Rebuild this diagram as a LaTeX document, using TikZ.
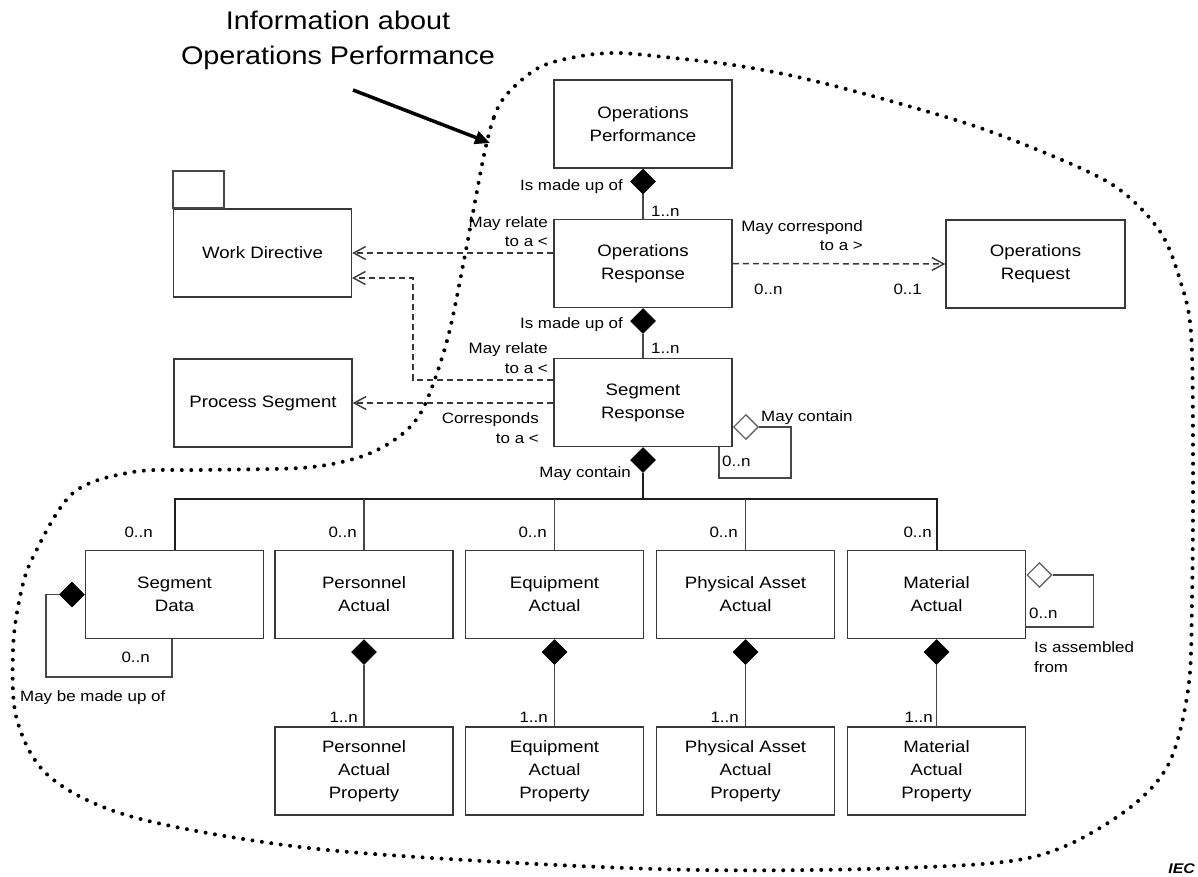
\documentclass[tikz,border=0pt]{standalone}
\usepackage{fontspec}
\setmainfont[FakeStretch=1.13]{Liberation Sans}
\usetikzlibrary{shapes.geometric,arrows.meta}
\begin{document}
\begin{tikzpicture}[x=1pt,y=-1pt,
  cls/.style={draw=black!78,line width=1.5pt,minimum width=178pt,minimum height=88pt,
    inner sep=0pt,align=center,font=\fontsize{16.5}{23}\selectfont},
  lbl/.style={inner sep=0pt,font=\fontsize{15}{19.5}\selectfont},
  fdia/.style={diamond,draw=black,fill=black,line width=0.6pt,minimum width=25pt,
    minimum height=25pt,inner sep=0pt},
  odia/.style={diamond,draw=black!60,fill=white,line width=1.3pt,minimum width=25pt,
    minimum height=25pt,inner sep=0pt},
  conn/.style={draw=black!72,line width=1.5pt},
  bus/.style={draw=black!88,line width=2pt},
  dep/.style={draw=black!78,line width=1.5pt,dash pattern=on 6pt off 4pt,
    -{Straight Barb[length=12pt,width=13pt,line width=1.4pt]}},
  region/.style={draw=black,line width=4pt,line cap=round,dash pattern=on 0pt off 9.5pt},
  pointer/.style={draw=black,line width=3.5pt,-{Triangle[length=15pt,width=13pt]}}
]
\useasboundingbox (0,0) rectangle (1198,877);

% title and pointer (a multi-line node's base is its last line)
\node[align=center,inner sep=0pt,font=\fontsize{25.5}{35}\selectfont,anchor=base] (title) at (338,65)
  {Information about\\Operations Performance};
\coordinate (ar0) at (353,90);
\coordinate (ar1) at (490,143);
\draw[pointer] (ar0) -- (ar1);

% boundary of the operations performance information
\draw[region] plot[smooth cycle,tension=0.55] coordinates {
  (483,160) (494,117) (508,93) (540,67) (581,56) (618,53) (664,57) (733,65)
  (802,78) (894,102) (986,130) (1078,167) (1124,193) (1161,233) (1180,280)
  (1191,333) (1193,460) (1192,600) (1188,690) (1167,767) (1117,817) (1033,857)
  (900,868) (700,870) (500,862) (300,847) (133,817) (50,777) (17,720) (13,650)
  (20,597) (33,557) (73,493) (133,472) (200,470) (300,468) (350,460) (383,447)
  (410,427) (427,400) (448,337) (465,255)};

% classes
\node[cls] (OP) at (643,124) {Operations\\Performance};
\node[cls] (OR) at (643,263.5) {Operations\\Response};
\node[cls,minimum width=179pt] (OQ) at (1035.5,264) {Operations\\Request};
\node[cls] (SR) at (643,402.5) {Segment\\Response};
\node[cls] (WD) at (262.5,253) {Work Directive};
\draw[conn] (WD.north west) rectangle ++(51,-37);
\node[cls] (PS) at (263,403) {Process Segment};

\node[cls] (SD) at (174.5,594.5) {Segment\\Data};
\node[cls] (PA) at (364,594.5) {Personnel\\Actual};
\node[cls] (EA) at (554.5,594.5) {Equipment\\Actual};
\node[cls] (HA) at (745.5,594.5) {Physical Asset\\Actual};
\node[cls] (MA) at (936.5,594.5) {Material\\Actual};

\node[cls] (PAP) at (364,771) {Personnel\\Actual\\Property};
\node[cls] (EAP) at (554.5,771) {Equipment\\Actual\\Property};
\node[cls] (HAP) at (745.5,771) {Physical Asset\\Actual\\Property};
\node[cls] (MAP) at (936.5,771) {Material\\Actual\\Property};

% composition: performance -> response -> segment response
\node[fdia,anchor=north] (dOP) at (OP.south) {};
\draw[conn] (dOP.south) -- (OR.north);
\node[lbl,anchor=base east] at (623,191) {Is made up of};
\node[lbl,anchor=base west] at (651,217) {1..n};

\node[fdia,anchor=north] (dOR) at (OR.south) {};
\draw[conn] (dOR.south) -- (SR.north);
\node[lbl,anchor=base east] at (623,328) {Is made up of};
\node[lbl,anchor=base west] at (651,353) {1..n};

% dependencies
\draw[dep] (OR.west |- WD.east) -- (WD.east);
\node[lbl,align=right,anchor=base east] at (548,247) {May relate\\to a <};

\coordinate (wdj) at (413,380);
\coordinate (wdi) at (352,278);
\draw[dep] (SR.west |- wdj) -- (wdj) |- (wdi);
\node[lbl,align=right,anchor=base east] at (548,373) {May relate\\to a <};

\draw[dep] (SR.west |- PS.east) -- (PS.east);
\node[lbl,align=right,anchor=base east] at (539,443) {Corresponds\\to a <};

\draw[dep] (OR.east) -- (OQ.west);
\node[lbl,align=right,anchor=base east] at (863,251) {May correspond\\to a >};
\node[lbl,anchor=base west] at (754,294) {0..n};
\node[lbl,anchor=base east] at (922,294) {0..1};

% segment response self aggregation
\node[odia,anchor=west] (dSR) at ([yshift=-24.5pt]SR.east) {};
\coordinate (srl) at (719,478);
\draw[conn] (dSR.east) -- ++(32,0) |- (srl) -- (srl |- SR.south);
\node[lbl,anchor=base west] at (761,421) {May contain};
\node[lbl,anchor=base west] at (722,466) {0..n};

% segment response contents
\node[fdia,anchor=north] (dSRb) at (SR.south) {};
\coordinate (bus) at (643,499);
\draw[bus] (dSRb.south) -- (bus);
\node[lbl,anchor=base east] at (631,477) {May contain};
\draw[bus] (SD.north) -- (SD.north |- bus) -- (MA.north |- bus) -- (MA.north);
\draw[conn] (PA.north) -- (PA.north |- bus);
\draw[conn] (EA.north) -- (EA.north |- bus);
\draw[conn] (HA.north) -- (HA.north |- bus);
\node[lbl,anchor=base east] at (153,537) {0..n};
\node[lbl,anchor=base east] at (357,537) {0..n};
\node[lbl,anchor=base east] at (547,537) {0..n};
\node[lbl,anchor=base east] at (738,537) {0..n};
\node[lbl,anchor=base east] at (932,537) {0..n};

% segment data self composition
\node[fdia,anchor=east] (dSD) at (SD.west) {};
\coordinate (sdl) at (172,677);
\draw[conn] (dSD.west) -- ++(-13,0) |- (sdl) -- (sdl |- SD.south);
\node[lbl,anchor=base east] at (150,662) {0..n};
\node[lbl,anchor=base west] at (20,701) {May be made up of};

% material actual self aggregation
\node[odia,anchor=west] (dMA) at ([yshift=19.5pt]MA.east) {};
\coordinate (mal) at (1093,627);
\draw[conn] (dMA.east) -- ++(41,0) |- (mal) -- (mal -| MA.east);
\node[lbl,anchor=base west] at (1029,618) {0..n};
\node[lbl,align=left,anchor=base west] at (1034,672) {Is assembled\\from};

% actual -> property compositions
\foreach \a/\p/\x in {PA/PAP/358,EA/EAP/548,HA/HAP/739,MA/MAP/933}{
  \node[fdia,anchor=north] (d\a) at (\a.south) {};
  \draw[conn] (d\a.south) -- (\p.north);
  \node[lbl,anchor=base east] at (\x,722) {1..n};
}

\node[anchor=base east,inner sep=0pt,font=\fontsize{14}{14}\selectfont\bfseries\itshape] (iec) at (1195,873) {IEC};
\end{tikzpicture}
\end{document}
